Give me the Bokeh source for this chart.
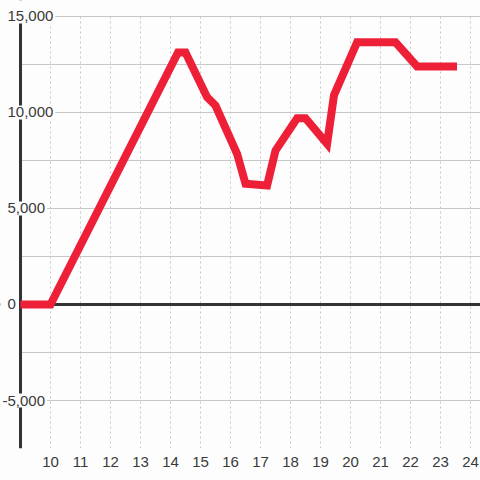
from bokeh.plotting import figure
from bokeh.models import Span, Label, FixedTicker, Range1d, BoxAnnotation
from bokeh.embed import file_html
from bokeh.resources import INLINE

# data (hours, value)
hours = [9.0, 10.0, 14.25, 14.5, 15.22, 15.5, 16.22, 16.5, 17.22, 17.5,
         18.22, 18.5, 19.22, 19.45, 20.22, 21.5, 22.22, 23.55]
values = [0, 0, 13125, 13125, 10800, 10365, 7850, 6285, 6200, 8020,
          9700, 9700, 8370, 10900, 13660, 13660, 12400, 12400]

x_ticks = list(range(10, 25))
y_label_ticks = [15000, 10000, 5000, 0, -5000]
y_grid_ticks = [-7500, -5000, -2500, 0, 2500, 5000, 7500, 10000, 12500, 15000]
x_start = 9
y_top = 15000

FONT = "Liberation Sans"
TXT = "#3a3a3a"
BG = "#fcfdfc"

p = figure(width=480, height=480, output_backend="svg", toolbar_location=None,
           x_range=Range1d(8.3333, 24.3333), y_range=Range1d(-7500, 15833.33),
           y_axis_location=None, min_border_left=0, min_border_right=0,
           min_border_top=0, min_border_bottom=32)
p.background_fill_color = BG
p.border_fill_color = BG
p.outline_line_color = None

p.xaxis.ticker = FixedTicker(ticks=x_ticks)
p.xaxis.axis_line_color = None
p.xaxis.major_tick_line_color = None
p.xaxis.minor_tick_line_color = None
p.xaxis.major_label_standoff = 2
p.xaxis.major_label_text_font = FONT
p.xaxis.major_label_text_font_size = "15px"
p.xaxis.major_label_text_color = TXT

p.xgrid.ticker = FixedTicker(ticks=x_ticks)
p.xgrid.grid_line_color = "#c8c8c8"
p.xgrid.grid_line_dash = "2 3"
p.xgrid.grid_line_width = 1
p.ygrid.ticker = FixedTicker(ticks=y_grid_ticks)
p.ygrid.grid_line_color = "#c8c8c8"
p.ygrid.grid_line_width = 1

# axis lines
p.add_layout(Span(location=0, dimension="width", line_color="#333333",
                  line_width=3, level="underlay"))
p.add_layout(Span(location=x_start, dimension="height", line_color="#333333",
                  line_width=3, level="underlay"))
# blank the margins left of the axis and above the top gridline
p.add_layout(BoxAnnotation(right=x_start - 0.05, fill_color=BG, fill_alpha=1,
                           line_color=None, level="underlay"))
p.add_layout(BoxAnnotation(bottom=y_top + 40, fill_color=BG, fill_alpha=1,
                           line_color=None, level="underlay"))

p.line(hours, values, line_color="#ee2038", line_width=8, line_join="miter")

for v in y_label_ticks:
    lab = Label(x=x_start, y=v, text=f"{v:,}", x_offset=-15 - (5 if v < 0 else 0),
                text_align="left", text_baseline="middle",
                text_font=FONT, text_font_size="15px", text_color=TXT,
                background_fill_color=BG, padding=2)
    p.add_layout(lab)

open("out.html", "w").write(file_html(p, INLINE))
